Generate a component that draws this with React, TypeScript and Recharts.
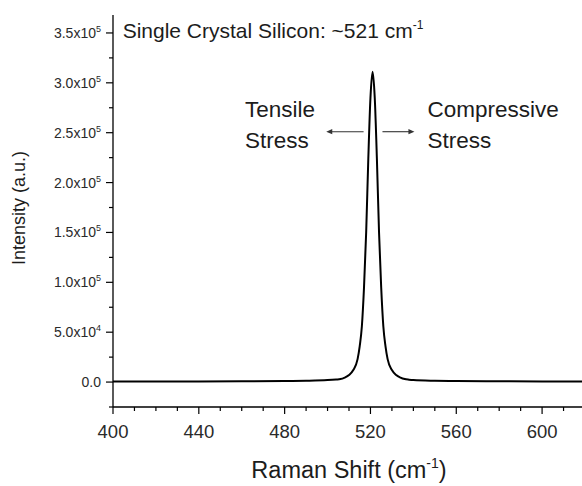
import React from "react";
import {
  LineChart,
  Line,
  XAxis,
  YAxis,
  ReferenceLine,
  ReferenceDot,
} from "recharts";

// ---- data ----
const ramanShift = [
  400, 420, 440, 460, 480, 490, 500, 504, 506, 508,
  510, 512, 514, 515, 516, 517, 518, 519, 520, 521,
  522, 523, 524, 525, 526, 527, 528,
  530, 532, 534, 536, 538, 540,
  550, 560, 580, 600, 620,
];
const intensity = [
  500, 550, 600, 750, 1000, 1300, 2000, 2600, 3000, 4500,
  7000, 12000, 23000, 36000, 56000, 95000, 150000, 224000, 285000, 311000,
  285000, 224000, 150000, 95000, 56000, 36000, 23000,
  12000, 7000, 4500, 3000, 2400, 2000,
  1300, 1000, 800, 650, 550,
];
const xTicks = [
  400, 410, 420, 430, 440, 450, 460, 470, 480, 490, 500, 510, 520, 530, 540,
  550, 560, 570, 580, 590, 600, 610, 620,
];
const yTicks = [
  -25000, 0, 25000, 50000, 75000, 100000, 125000, 150000, 175000, 200000,
  225000, 250000, 275000, 300000, 325000, 350000,
];
const xDomain = [400, 620];
const yDomain = [-25000, 368000];

const titleText = "Single Crystal Silicon: ~521 cm";
const tensileLines = ["Tensile", "Stress"];
const compressiveLines = ["Compressive", "Stress"];

const data = ramanShift.map((x, i) => ({ x, y: intensity[i] }));

const FONT = "'Liberation Sans', Arial, Helvetica, sans-serif";
const TEXT = "#1c1c1c";

const XTick = (props: any) => {
  const { x, y, payload } = props;
  const v = payload.value;
  const major = v % 40 === 0;
  return (
    <g>
      <line x1={x} y1={y} x2={x} y2={y + (major ? 7 : 4)} stroke="#000" strokeWidth={1.2} />
      {major && (
        <text x={x} y={y + 31} textAnchor="middle" fontSize={18.5} fontFamily={FONT} fill="#2a2a2a">
          {v}
        </text>
      )}
    </g>
  );
};

const YTick = (props: any) => {
  const { x, y, payload } = props;
  const v = payload.value;
  const major = v >= 0 && v % 50000 === 0;
  let label: React.ReactNode = null;
  if (major) {
    if (v === 0) {
      label = <tspan>0.0</tspan>;
    } else {
      const exp = Math.floor(Math.log10(v));
      const m = (v / Math.pow(10, exp)).toFixed(1);
      label = (
        <>
          <tspan>{m + "x10"}</tspan>
          <tspan dy={-6} fontSize={9}>{exp}</tspan>
        </>
      );
    }
  }
  return (
    <g>
      <line x1={x} y1={y} x2={x - (major ? 7 : 4)} y2={y} stroke="#000" strokeWidth={1.2} />
      {major && (
        <text x={x - 12} y={y} dy="0.36em" textAnchor="end" fontSize={14} fontFamily={FONT} fill="#2a2a2a">
          {label}
        </text>
      )}
    </g>
  );
};

const XTitle = (props: any) => {
  const vb = props.viewBox || { x: 0, y: 0, width: 0, height: 0 };
  const cx = vb.x + vb.width / 2;
  return (
    <text x={cx} y={vb.y + 71} textAnchor="middle" fontSize={23.5} fontFamily={FONT} fill={TEXT}>
      <tspan>Raman Shift (cm</tspan>
      <tspan dy={-10} fontSize={14}>-1</tspan>
      <tspan dy={10}>)</tspan>
    </text>
  );
};

const YTitle = (props: any) => {
  const vb = props.viewBox || { x: 0, y: 0, width: 0, height: 0 };
  const cy = vb.y + vb.height / 2 - 3;
  const bx = vb.x + 25;
  return (
    <text
      x={bx}
      y={cy}
      textAnchor="middle"
      fontSize={18}
      fontFamily={FONT}
      fill={TEXT}
      transform={`rotate(-90, ${bx}, ${cy})`}
    >
      Intensity (a.u.)
    </text>
  );
};

const MultiLine = (lines: string[]) => (props: any) => {
  const vb = props.viewBox || { x: 0, y: 0 };
  return (
    <text x={vb.x} y={vb.y} fontSize={22.5} fontFamily={FONT} fill={TEXT}>
      {lines.map((l, i) => (
        <tspan key={i} x={vb.x} dy={i === 0 ? 0 : 31}>
          {l}
        </tspan>
      ))}
    </text>
  );
};

const TopTitle = (props: any) => {
  const vb = props.viewBox || { x: 0, y: 0 };
  return (
    <text x={vb.x} y={vb.y} fontSize={21} fontFamily={FONT} fill={TEXT}>
      <tspan>{titleText}</tspan>
      <tspan dy={-9} fontSize={12}>-1</tspan>
    </text>
  );
};

const Arrow = (props: any) => {
  const { x1, y1, x2, y2 } = props;
  if ([x1, y1, x2, y2].some((v) => typeof v !== "number" || isNaN(v))) return null;
  const dir = x2 > x1 ? 1 : -1;
  const hl = 6;
  const hw = 2.6;
  return (
    <g>
      <line x1={x1} y1={y1} x2={x2 - dir * hl * 0.6} y2={y2} stroke="#333" strokeWidth={1.1} />
      <polygon
        points={`${x2},${y2} ${x2 - dir * hl},${y2 - hw} ${x2 - dir * hl},${y2 + hw}`}
        fill="#333"
      />
    </g>
  );
};

export default function App() {
  return (
    <div style={{ position: "absolute", left: 0, top: 0, width: 582, height: 486, overflow: "hidden", background: "#fff" }}>
      <LineChart width={590} height={486} data={data} margin={{ top: 15, right: 5, bottom: 0, left: 0 }}>
        <XAxis
          xAxisId="main"
          dataKey="x"
          type="number"
          domain={xDomain}
          ticks={xTicks}
          interval={0}
          tickSize={0}
          tickMargin={0}
          tickLine={false}
          tick={<XTick />}
          height={79}
          axisLine={{ stroke: "#000", strokeWidth: 1.3 }}
          allowDataOverflow
          label={{ content: <XTitle /> }}
        />
        <XAxis
          xAxisId="top"
          orientation="top"
          type="number"
          domain={xDomain}
          height={0}
          tick={false}
          tickLine={false}
          axisLine={{ stroke: "#000", strokeWidth: 1.3 }}
          allowDataOverflow
        />
        <YAxis
          type="number"
          domain={yDomain}
          ticks={yTicks}
          interval={0}
          width={113}
          tickSize={0}
          tickMargin={0}
          tickLine={false}
          tick={<YTick />}
          axisLine={{ stroke: "#000", strokeWidth: 1.3 }}
          allowDataOverflow
          label={{ content: <YTitle /> }}
        />
        <Line
          xAxisId="main"
          dataKey="y"
          type="monotone"
          stroke="#000"
          strokeWidth={2}
          dot={false}
          isAnimationActive={false}
        />
        <ReferenceDot
          xAxisId="main"
          x={404.5}
          y={345000}
          r={0}
          fill="none"
          stroke="none"
          label={{ content: <TopTitle /> }}
        />
        <ReferenceDot
          xAxisId="main"
          x={461.5}
          y={265500}
          r={0}
          fill="none"
          stroke="none"
          label={{ content: MultiLine(tensileLines) }}
        />
        <ReferenceDot
          xAxisId="main"
          x={546.6}
          y={265500}
          r={0}
          fill="none"
          stroke="none"
          label={{ content: MultiLine(compressiveLines) }}
        />
        <ReferenceLine
          xAxisId="main"
          segment={[{ x: 516.8, y: 251000 }, { x: 499.4, y: 251000 }]}
          shape={<Arrow />}
        />
        <ReferenceLine
          xAxisId="main"
          segment={[{ x: 525.6, y: 251000 }, { x: 540.5, y: 251000 }]}
          shape={<Arrow />}
        />
      </LineChart>
    </div>
  );
}
